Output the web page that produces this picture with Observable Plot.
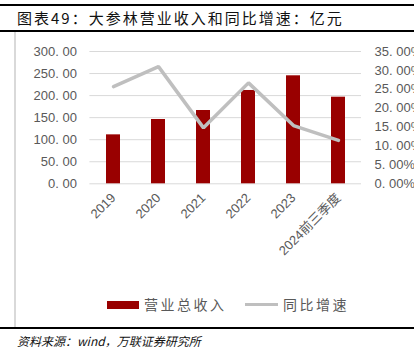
<!DOCTYPE html>
<html><head><meta charset="utf-8">
<script src="https://cdn.jsdelivr.net/npm/d3@7"></script>
<script src="https://cdn.jsdelivr.net/npm/@observablehq/plot@0.6"></script>
<style>
html,body{margin:0;padding:0;width:414px;height:353px;overflow:hidden;background:#fff;}
body{position:relative;font-family:"Liberation Sans","Noto Sans CJK SC",sans-serif;}
.abs{position:absolute;}
</style></head><body>
<div class="abs" style="left:0;top:4px;width:414px;height:2px;background:#000"></div>
<div class="abs" id="title" style="left:17px;top:7px;font:15px 'Noto Sans CJK SC',sans-serif;letter-spacing:2px;color:#111;white-space:nowrap">图表49：大参林营业收入和同比增速：亿元</div>
<div class="abs" style="left:0;top:30px;width:414px;height:2px;background:#000"></div>
<div class="abs" style="left:14px;top:32px;width:2px;height:295px;background:#d9d9d9"></div>
<div class="abs" id="chart" style="left:0;top:32px"></div>
<div class="abs" id="legend" style="left:0;top:294px;width:414px;height:22px;font:14px 'Noto Sans CJK SC',sans-serif;color:#595959;letter-spacing:2.5px;">
  <div class="abs" style="left:107px;top:7px;width:32px;height:8px;background:#990000"></div>
  <div class="abs" id="lg1" style="left:144px;top:0px;white-space:nowrap"></div>
  <div class="abs" style="left:245px;top:9px;width:33px;height:3px;background:#bfbfbf"></div>
  <div class="abs" id="lg2" style="left:283px;top:0px;white-space:nowrap"></div>
</div>
<div class="abs" style="left:0;top:327px;width:414px;height:2px;background:#000"></div>
<div class="abs" style="left:17px;top:332px;font:italic 12px 'Noto Sans CJK SC',serif;color:#111;white-space:nowrap">资料来源：wind，万联证券研究所</div>
<script>
const categories = ["2019","2020","2021","2022","2023","2024前三季度"];
const revenue = [111, 145.8, 166.2, 211.6, 244.9, 196.4];
const growth = [25.7, 31.0, 14.8, 26.7, 15.4, 11.5];
const leftTicks = [0,50,100,150,200,250,300];
const rightTicks = [0,5,10,15,20,25,30,35];
const seriesNames = ["营业总收入","同比增速"];

document.getElementById("lg1").textContent = seriesNames[0];
document.getElementById("lg2").textContent = seriesNames[1];

const leftMax = 300, rightMax = 35;
const toLeft = p => p * leftMax / rightMax;
const fmt = v => v.toFixed(2).replace(".", ". ");
const data = categories.map((c,i) => ({cat:c, rev:revenue[i], g:growth[i]}));

const chart = Plot.plot({
  width: 414,
  height: 262,
  marginTop: 19,
  marginBottom: 110.7,
  marginLeft: 89.4,
  marginRight: 53,
  style: {fontFamily: "'Liberation Sans','Noto Sans CJK SC',sans-serif", fontSize: "13px", color: "#595959", background: "transparent", overflow: "visible"},
  x: {domain: categories, paddingInner: 0.69, paddingOuter: 0.345, label: null},
  y: {domain: [0, leftMax], label: null},
  marks: [
    Plot.ruleY(leftTicks, {stroke: "#d9d9d9", strokeWidth: 1}),
    Plot.barY(data, {x: "cat", y: "rev", fill: "#990000"}),
    Plot.line(data, {x: "cat", y: d => toLeft(d.g), stroke: "#bfbfbf", strokeWidth: 3.5, strokeLinejoin: "miter"}),
    Plot.axisY(leftTicks, {anchor: "left", tickSize: 0, tickPadding: 13, tickFormat: fmt, label: null, fill: "#595959", fontSize: 13}),
    Plot.axisY(rightTicks.map(toLeft), {anchor: "right", tickSize: 0, tickPadding: 13, tickFormat: d => fmt(d * rightMax / leftMax) + "%", label: null, fill: "#595959", fontSize: 13}),
    Plot.axisX({tickSize: 0, tickPadding: 12, tickRotate: -45, label: null, fill: "#595959", fontSize: 13})
  ]
});
document.getElementById("chart").appendChild(chart);
</script>
</body></html>
